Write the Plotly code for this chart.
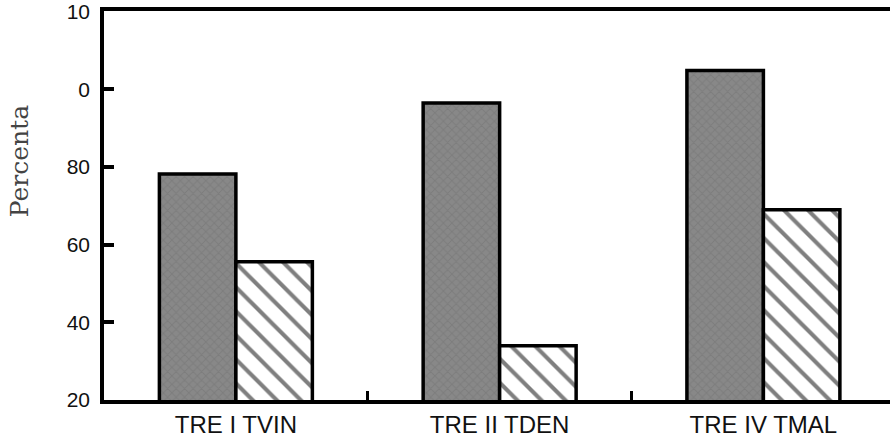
import plotly.graph_objects as go

categories = ["TRE I TVIN", "TRE II TDEN", "TRE IV TMAL"]
series_gray = [78.2, 96.5, 104.9]
series_hatched = [55.6, 34.0, 69.0]
y_tickvals = [20, 40, 60, 80, 100, 120]
y_ticktext = ["20", "40", "60", "80", "0", "10"]
y_title = "Percenta"

W, H = 890, 440
L, R, T, B = 104, 0, 9, 40

fig = go.Figure()
fig.add_trace(go.Bar(
    x=categories, y=series_gray, name="A",
    marker=dict(color="#868686",
                line=dict(color="black", width=3.5),
                pattern=dict(shape="x", fgcolor="#727272", bgcolor="#888888",
                             size=6, solidity=0.3)),
))
fig.add_trace(go.Bar(
    x=categories, y=series_hatched, name="B",
    marker=dict(color="white",
                line=dict(color="black", width=3.5),
                pattern=dict(shape="\\", fgcolor="black", bgcolor="white",
                             size=17, solidity=0.24)),
))

fig.update_layout(
    width=W, height=H,
    margin=dict(l=L, r=R, t=T, b=B, pad=0),
    paper_bgcolor="white", plot_bgcolor="white",
    barmode="group", bargap=0.42, bargroupgap=0,
    showlegend=False,
    font=dict(family="Liberation Sans, Arial, sans-serif", color="black"),
)
fig.update_xaxes(
    type="category", range=[-0.5, 2.48],
    showline=True, linecolor="black", linewidth=3.5, mirror=True,
    showgrid=False, zeroline=False,
    tickson="boundaries", ticks="inside", ticklen=9, tickwidth=3, tickcolor="black",
    tickfont=dict(size=24, color="#111"),
)
fig.update_yaxes(
    range=[20, 120.2],
    tickvals=y_tickvals, ticktext=y_ticktext,
    showline=True, linecolor="black", linewidth=3.5, mirror=False,
    showgrid=False, zeroline=False,
    ticks="inside", ticklen=10, tickwidth=3.5, tickcolor="black",
    tickfont=dict(size=21, color="#111"),
    ticklabelstandoff=6, ticksuffix="\u00a0\u2009",
    ticklabeloverflow="allow",
)
fig.add_annotation(
    text=y_title, textangle=-90, showarrow=False,
    xref="paper", yref="paper",
    x=(19 - L) / (W - L - R), y=(H - B - 160) / (H - B - T),
    xanchor="center", yanchor="middle",
    font=dict(family="DejaVu Serif, serif", size=25, color="#444"),
)
fig.write_html("out.html", config={"displayModeBar": False},
               post_script="document.body.style.margin='0';document.body.style.overflow='hidden';")
